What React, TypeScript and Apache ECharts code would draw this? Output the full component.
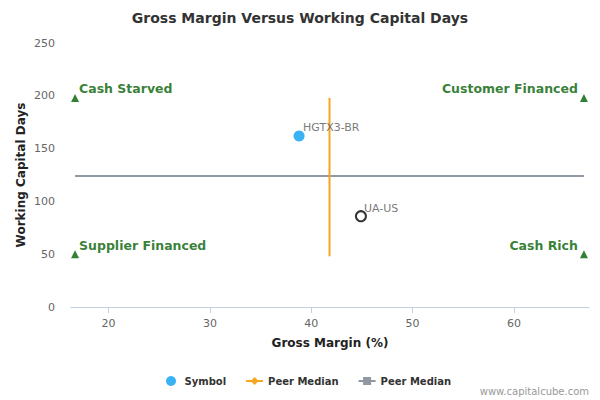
import * as echarts from 'echarts';
import { useEffect, useRef } from 'react';

const FONT = 'DejaVu Sans';

const xTicks = [20, 30, 40, 50, 60];
const symbolPoint: [number, number, string] = [38.8, 162, 'HGTX3-BR'];
const companyPoint: [number, number, string] = [44.9, 86, 'UA-US'];
const peerMedianX = [41.8, 41.8];
const peerMedianXDays = [48, 198];
const peerMedianY = [124, 124];
const peerMedianYMargin = [16.7, 66.9];
const quadrantNames = ['Cash Starved', 'Customer Financed', 'Supplier Financed', 'Cash Rich'];
const quadrantX = [16.7, 66.9, 16.7, 66.9];
const quadrantY = [198, 198, 50, 50];

export default function App() {
  const containerRef = useRef<HTMLDivElement>(null);

  useEffect(() => {
    const chart = echarts.init(containerRef.current!, undefined, { renderer: 'svg' });
    chart.setOption({
      animation: false,
      backgroundColor: '#fff',
      textStyle: { fontFamily: FONT },
      title: {
        text: 'Gross Margin Versus Working Capital Days',
        left: 'center',
        top: 6,
        textStyle: { fontFamily: FONT, fontSize: 14, fontWeight: 'bold', color: '#333' },
      },
      legend: {
        bottom: 9,
        left: 161,
        itemGap: 19,
        itemWidth: 17,
        itemHeight: 10,
        textStyle: { fontFamily: FONT, fontSize: 10, fontWeight: 'bold', color: '#333' },
        data: ['Symbol', 'Peer Median', 'Peer Median '],
      },
      grid: { left: 71, right: 11, top: 43, bottom: 93 },
      xAxis: {
        type: 'value',
        min: 16.3,
        max: 67.4,
        name: 'Gross Margin (%)',
        nameLocation: 'middle',
        nameGap: 30,
        nameMoveOverlap: false,
        nameTextStyle: { fontFamily: FONT, fontSize: 12, fontWeight: 'bold', color: '#222' },
        splitLine: { show: false },
        axisLine: { lineStyle: { color: '#c0d0e0' } },
        axisTick: { show: true, customValues: xTicks, length: 6, lineStyle: { color: '#c0d0e0' } },
        axisLabel: { customValues: xTicks, color: '#666', fontSize: 11, fontFamily: FONT, margin: 11 },
      },
      yAxis: {
        type: 'value',
        min: 0,
        max: 250,
        interval: 50,
        name: 'Working Capital Days',
        nameLocation: 'middle',
        nameGap: 44,
        nameMoveOverlap: false,
        nameTextStyle: { fontFamily: FONT, fontSize: 12, fontWeight: 'bold', color: '#222' },
        splitLine: { show: false },
        axisLine: { show: false },
        axisTick: { show: false },
        axisLabel: { color: '#666', fontSize: 11, fontFamily: FONT, margin: 16 },
      },
      series: [
        {
          name: 'Peer Median ',
          type: 'line',
          symbol: 'rect',
          showSymbol: false,
          itemStyle: { color: '#9098a4' },
          lineStyle: { color: '#9098a4', width: 2 },
          data: peerMedianYMargin.map((x, i) => [x, peerMedianY[i]]),
          z: 1,
        },
        {
          name: 'Peer Median',
          type: 'line',
          symbol: 'diamond',
          showSymbol: false,
          itemStyle: { color: '#f5a623' },
          lineStyle: { color: '#f5a623', width: 2 },
          data: peerMedianX.map((x, i) => [x, peerMedianXDays[i]]),
          z: 2,
        },
        {
          name: 'Symbol',
          type: 'scatter',
          symbol: 'circle',
          symbolSize: 11,
          itemStyle: { color: '#0a9ff0' },
          label: {
            show: true,
            position: 'right',
            offset: [-6.5, -8],
            formatter: (p: { value: [number, number, string] }) => p.value[2],
            color: '#555',
            fontSize: 11,
            fontFamily: FONT,
          },
          data: [symbolPoint],
          z: 3,
        },
        {
          name: 'Company',
          type: 'scatter',
          symbol: 'circle',
          symbolSize: 10,
          itemStyle: { color: '#fff', borderColor: '#000', borderWidth: 2 },
          label: {
            show: true,
            position: 'right',
            offset: [-8, -8],
            formatter: (p: { value: [number, number, string] }) => p.value[2],
            color: '#555',
            fontSize: 11,
            fontFamily: FONT,
          },
          data: [companyPoint],
          z: 3,
        },
        {
          name: 'Quadrants',
          type: 'scatter',
          symbol: 'triangle',
          symbolSize: 8,
          itemStyle: { color: '#006000' },
          data: quadrantNames.map((n, i) => ({
            value: [quadrantX[i], quadrantY[i]],
            name: n,
            label: {
              show: true,
              position: i % 2 === 0 ? 'right' : 'left',
              offset: i % 2 === 0 ? [-5, -9] : [3, -9],
              formatter: n,
              color: '#006000',
              fontSize: 12.5,
              fontWeight: 'bold',
              fontFamily: FONT,
            },
          })),
          z: 4,
        },
      ],
      graphic: [
        {
          type: 'text',
          right: 11,
          bottom: 4,
          style: { text: 'www.capitalcube.com', fill: '#999', fontSize: 10, fontFamily: FONT },
        },
      ],
    });
    return () => chart.dispose();
  }, []);

  return (
    <div
      ref={containerRef}
      style={{ position: 'absolute', left: 0, top: 0, width: 600, height: 400 }}
    />
  );
}
